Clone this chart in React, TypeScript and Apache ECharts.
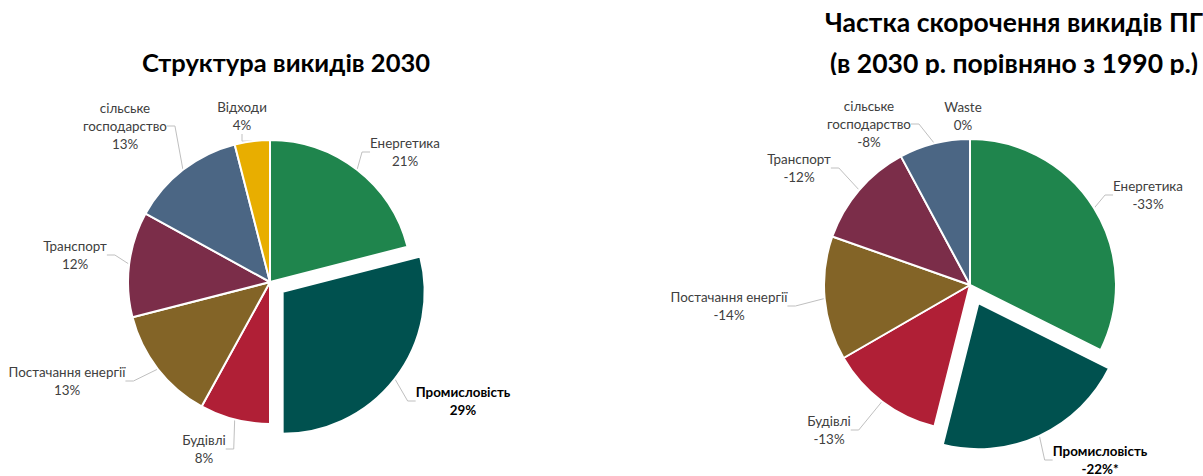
import React, { useEffect, useRef } from "react";
import * as echarts from "echarts";

const leftNames = ["Енергетика", "Промисловість", "Будівлі", "Постачання енергії", "Транспорт", "сільське\nгосподарство", "Відходи"];
const leftValues = [21, 29, 8, 13, 12, 13, 4];

const rightNames = ["Енергетика", "Промисловість", "Будівлі", "Постачання енергії", "Транспорт", "сільське\nгосподарство", "Waste"];
const rightValues = [-33, -22, -13, -14, -12, -8, 0];
const rightNotes = ["", "*", "", "", "", "", ""];

const colors = ["#1F854D", "#00514F", "#B01F36", "#836427", "#7B2D49", "#4B6684", "#E8AE00"];

const leftTitle = "Структура викидів 2030";
const rightTitle1 = "Частка скорочення викидів ПГ";
const rightTitle2 = "(в 2030 р. порівняно з 1990 р.)";

const explodedIndex = 1;

// label anchor positions (layout only)
const leftLabelPos = [[405, 152], [463, 401], [204, 449], [67, 381], [75, 255], [125, 126], [242, 116]];
const rightLabelPos = [[1148, 195], [1100, 460], [829, 430], [729, 306], [799, 168], [869, 124], [963, 116]];

const FONT = "Lato, 'Open Sans', sans-serif";
const CLEAR = "rgba(0,0,0,0)";

function buildData(names: string[], values: number[], notes: string[] | null, hideLineIdx: number[], exploded: boolean) {
  return names.map((n, i) => {
    const isInd = i === explodedIndex;
    const visible = exploded ? isInd : !isInd;
    const item: any = {
      name: n,
      value: Math.abs(values[i]),
      display: values[i] + "%" + (notes ? notes[i] : ""),
      itemStyle: visible ? { color: colors[i] } : { color: CLEAR, borderColor: CLEAR, borderWidth: 0 },
    };
    if (!visible) {
      item.label = { show: false };
      item.labelLine = { show: false };
    } else {
      if (isInd) item.label = { fontWeight: "bold", color: "#000" };
      if (hideLineIdx.indexOf(i) >= 0) item.labelLine = { show: false };
    }
    return item;
  });
}

function shiftedCenter(center: number[], values: number[], offset: number) {
  const abs = values.map((v) => Math.abs(v));
  const total = abs.reduce((a, b) => a + b, 0);
  let before = 0;
  for (let i = 0; i < explodedIndex; i++) before += abs[i];
  const frac = (before + abs[explodedIndex] / 2) / total;
  const th = frac * Math.PI * 2;
  return [center[0] + offset * Math.sin(th), center[1] - offset * Math.cos(th)];
}

export default function App() {
  const ref = useRef<HTMLDivElement>(null);
  useEffect(() => {
    if (!ref.current) return;
    const chart = echarts.init(ref.current, undefined, { renderer: "svg" });
    const common = {
      type: "pie",
      startAngle: 90,
      clockwise: true,
      silent: true,
      avoidLabelOverlap: false,
      itemStyle: { borderColor: "#fff", borderWidth: 2 },
      emphasis: { disabled: true },
      label: {
        show: true,
        position: "outside",
        fontFamily: FONT,
        fontSize: 13.4,
        lineHeight: 18,
        color: "#404040",
        align: "center",
        formatter: (p: any) => p.name + "\n" + p.data.display,
      },
      labelLine: { show: true, length: 10, length2: 8, lineStyle: { color: "#bfbfbf", width: 1 } },
    };
    const leftCenter = [270, 282];
    const rightCenter = [970, 285];
    const mkLayout = (posArr: number[][]) => (p: any) => {
      const pos = posArr[p.dataIndex];
      return { x: pos[0], y: pos[1], align: "center", verticalAlign: "middle" };
    };
    chart.setOption({
      animation: false,
      backgroundColor: "#fff",
      graphic: [
        { type: "text", x: 286, y: 62, style: { text: leftTitle, font: `bold 25.5px ${FONT}`, fill: "#000", textAlign: "center", textVerticalAlign: "middle" } },
        { type: "text", x: 1014, y: 22, style: { text: rightTitle1, font: `bold 26.5px ${FONT}`, fill: "#000", textAlign: "center", textVerticalAlign: "middle" } },
        { type: "text", x: 1014, y: 63, style: { text: rightTitle2, font: `bold 26.5px ${FONT}`, fill: "#000", textAlign: "center", textVerticalAlign: "middle" } },
        { type: "rect", shape: { x: 800, y: 75, width: 403, height: 16 }, style: { fill: "#fff" }, z: 10 },
      ],
      series: [
        {
          ...common,
          center: leftCenter,
          radius: 142,
          data: buildData(leftNames, leftValues, null, [], false),
          labelLayout: mkLayout(leftLabelPos),
        },
        {
          ...common,
          center: shiftedCenter(leftCenter, leftValues, 16),
          radius: 142,
          data: buildData(leftNames, leftValues, null, [], true),
          labelLayout: mkLayout(leftLabelPos),
        },
        {
          ...common,
          center: rightCenter,
          radius: 146,
          data: buildData(rightNames, rightValues, rightNotes, [6], false),
          labelLayout: mkLayout(rightLabelPos),
        },
        {
          ...common,
          center: shiftedCenter(rightCenter, rightValues, 20),
          radius: 146,
          data: buildData(rightNames, rightValues, rightNotes, [6], true),
          labelLayout: mkLayout(rightLabelPos),
        },
      ],
    });
    return () => chart.dispose();
  }, []);
  return <div ref={ref} style={{ position: "fixed", left: 0, top: 0, width: 1203, height: 476 }} />;
}
